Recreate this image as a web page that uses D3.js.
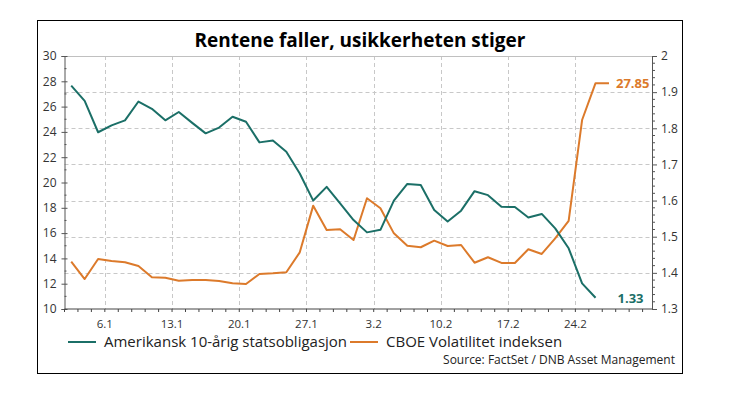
<!DOCTYPE html>
<html>
<head>
  <meta charset="utf-8">
  <script src="https://d3js.org/d3.v7.min.js"></script>
  <style>
    body { margin: 0; background: #fff; }
    text { font-family: "Open Sans", sans-serif; }
    .tick text { fill: #333; font-size: 12px; }
    .grid line { stroke: #c8c8c8; stroke-dasharray: 4,3; }
  </style>
</head>
<body>
  <script>
    // Business days shown on the x axis
    const dates = [
      "31.12", "2.1", "3.1", "6.1", "7.1", "8.1", "9.1", "10.1",
      "13.1", "14.1", "15.1", "16.1", "17.1", "20.1", "21.1", "22.1", "23.1", "24.1",
      "27.1", "28.1", "29.1", "30.1", "31.1", "3.2", "4.2", "5.2", "6.2", "7.2",
      "10.2", "11.2", "12.2", "13.2", "14.2", "17.2", "18.2", "19.2", "20.2", "21.2",
      "24.2", "25.2", "26.2"
    ];

    // US 10y yield (right axis)
    const yield10 = [
      1.918, 1.876, 1.789, 1.808, 1.822, 1.874, 1.854, 1.822,
      1.845, 1.815, 1.786, 1.802, 1.832, 1.818, 1.761, 1.766, 1.735, 1.675,
      1.600, 1.638, 1.592, 1.546, 1.512, 1.519, 1.600, 1.646, 1.643, 1.574,
      1.542, 1.572, 1.626, 1.615, 1.583, 1.582, 1.553, 1.563, 1.523, 1.468,
      1.371, 1.331
    ];

    // CBOE VIX (left axis)
    const vix = [
      13.74, 12.37, 13.95, 13.79, 13.69, 13.40, 12.51, 12.47,
      12.24, 12.29, 12.29, 12.21, 12.03, 11.98, 12.77, 12.82, 12.90, 14.48,
      18.17, 16.25, 16.30, 15.45, 18.75, 17.96, 15.98, 15.00, 14.88, 15.40,
      14.98, 15.06, 13.66, 14.09, 13.64, 13.64, 14.72, 14.35, 15.59, 16.96,
      24.94, 27.85, 27.85
    ];

    const tickLabels = ["6.1", "13.1", "20.1", "27.1", "3.2", "10.2", "17.2", "24.2"];
    const leftTicks = [10, 12, 14, 16, 18, 20, 22, 24, 26, 28, 30];
    const rightTicks = [1.3, 1.4, 1.5, 1.6, 1.7, 1.8, 1.9, 2];

    const title = "Rentene faller, usikkerheten stiger";
    const seriesNames = ["Amerikansk 10-årig statsobligasjon", "CBOE Volatilitet indeksen"];
    const source = "Source: FactSet / DNB Asset Management";

    const green = "#1b6f67";
    const orange = "#dc7a2b";

    const width = 735, height = 397;
    const plot = { left: 64.5, right: 652, top: 56, bottom: 309 };

    const svg = d3.select("body").append("svg")
      .attr("width", width)
      .attr("height", height);

    // outer frame
    svg.append("rect")
      .attr("x", 37.5).attr("y", 20.5)
      .attr("width", 645).attr("height", 353)
      .attr("fill", "none").attr("stroke", "#000");

    svg.append("text")
      .attr("x", 360).attr("y", 47)
      .attr("text-anchor", "middle")
      .style("font-size", "19px").style("font-weight", 700)
      .text(title);

    const x = d3.scaleLinear().domain([-0.5, 43.2]).range([plot.left, plot.right]);
    const yL = d3.scaleLinear().domain([10, 30]).range([plot.bottom, plot.top]);
    const yR = d3.scaleLinear().domain([1.3, 2]).range([plot.bottom, plot.top]);

    // gridlines
    const grid = svg.append("g").attr("class", "grid");
    grid.selectAll(".h")
      .data(rightTicks.filter(v => v > 1.3 && v < 2))
      .join("line")
      .attr("x1", plot.left).attr("x2", plot.right)
      .attr("y1", d => Math.round(yR(d)) + 0.5).attr("y2", d => Math.round(yR(d)) + 0.5);
    grid.selectAll(".v")
      .data(tickLabels)
      .join("line")
      .attr("x1", d => Math.round(x(dates.indexOf(d) - 0.5)) + 0.5)
      .attr("x2", d => Math.round(x(dates.indexOf(d) - 0.5)) + 0.5)
      .attr("y1", plot.top).attr("y2", plot.bottom);

    svg.append("line")
      .attr("x1", plot.left).attr("x2", plot.right)
      .attr("y1", plot.top + 0.5).attr("y2", plot.top + 0.5)
      .attr("stroke", "#c0c0c0");

    // left axis
    const leftAxis = svg.append("g")
      .attr("transform", `translate(${plot.left},0)`)
      .call(d3.axisLeft(yL).tickValues(leftTicks).tickSize(3).tickPadding(5));
    leftAxis.selectAll(".tick line").attr("x2", 3).attr("x1", -3).attr("stroke", "#555");
    leftAxis.select(".domain").attr("stroke", "#555");
    leftAxis.append("g").selectAll("line")
      .data(d3.range(11, 30, 2))
      .join("line")
      .attr("x1", 0).attr("x2", 2)
      .attr("y1", d => yL(d)).attr("y2", d => yL(d))
      .attr("stroke", "#555");

    // right axis
    const rightAxis = svg.append("g")
      .attr("transform", `translate(${plot.right},0)`)
      .call(d3.axisRight(yR).tickValues(rightTicks).tickSize(5).tickPadding(4)
        .tickFormat(d3.format("~g")));
    rightAxis.selectAll(".tick line").attr("stroke", "#555");
    rightAxis.select(".domain").attr("stroke", "#555");
    rightAxis.append("g").selectAll("line")
      .data(d3.range(1.32, 2, 0.02).filter(v => Math.abs(v * 10 - Math.round(v * 10)) > 0.01))
      .join("line")
      .attr("x1", 0).attr("x2", 3)
      .attr("y1", d => yR(d)).attr("y2", d => yR(d))
      .attr("stroke", "#555");

    // bottom axis: minor ticks on every day boundary, labels on Mondays
    const bottom = svg.append("g").attr("transform", `translate(0,${plot.bottom})`);
    bottom.append("line")
      .attr("x1", plot.left).attr("x2", plot.right)
      .attr("stroke", "#444");
    bottom.selectAll(".minor")
      .data(d3.range(-0.5, 43, 1))
      .join("line")
      .attr("x1", d => x(d)).attr("x2", d => x(d))
      .attr("y1", 0).attr("y2", 3)
      .attr("stroke", "#444");
    bottom.selectAll(".lab")
      .data(tickLabels)
      .join("text")
      .attr("x", d => x(dates.indexOf(d) - 0.5))
      .attr("y", 19)
      .attr("text-anchor", "middle")
      .attr("fill", "#333")
      .style("font-size", "11.5px")
      .text(d => d);

    // lines
    const lineL = d3.line().x((d, i) => x(i)).y(d => yL(d));
    const lineR = d3.line().x((d, i) => x(i)).y(d => yR(d));

    svg.append("path")
      .datum(vix)
      .attr("d", lineL)
      .attr("fill", "none").attr("stroke", orange)
      .attr("stroke-width", 2).attr("stroke-linejoin", "round");

    svg.append("path")
      .datum(yield10)
      .attr("d", lineR)
      .attr("fill", "none").attr("stroke", green)
      .attr("stroke-width", 2).attr("stroke-linejoin", "round");

    // end labels
    const lastV = vix.length - 1, lastY = yield10.length - 1;
    svg.append("text")
      .attr("x", x(lastV) + 7).attr("y", yL(vix[lastV]))
      .attr("dy", "0.35em")
      .attr("fill", orange)
      .style("font-size", "13px").style("font-weight", 700)
      .text(d3.format(".2f")(vix[lastV]));
    svg.append("text")
      .attr("x", x(lastY) + 22).attr("y", yR(yield10[lastY]) + 1)
      .attr("dy", "0.35em")
      .attr("fill", green)
      .style("font-size", "13px").style("font-weight", 700)
      .text(d3.format(".2f")(yield10[lastY]));

    // legend
    const legend = svg.append("g").attr("transform", "translate(68,342)");
    const legendItems = [
      { name: seriesNames[0], color: green, x: 0 },
      { name: seriesNames[1], color: orange, x: 282 }
    ];
    legendItems.forEach(item => {
      legend.append("line")
        .attr("x1", item.x).attr("x2", item.x + 28)
        .attr("stroke", item.color).attr("stroke-width", 2);
      legend.append("text")
        .attr("x", item.x + 36).attr("dy", "0.35em")
        .attr("fill", "#222")
        .style("font-size", "15px")
        .text(item.name);
    });

    svg.append("text")
      .attr("x", 675).attr("y", 364)
      .attr("text-anchor", "end")
      .attr("fill", "#222")
      .style("font-size", "12px")
      .text(source);
  </script>
</body>
</html>
